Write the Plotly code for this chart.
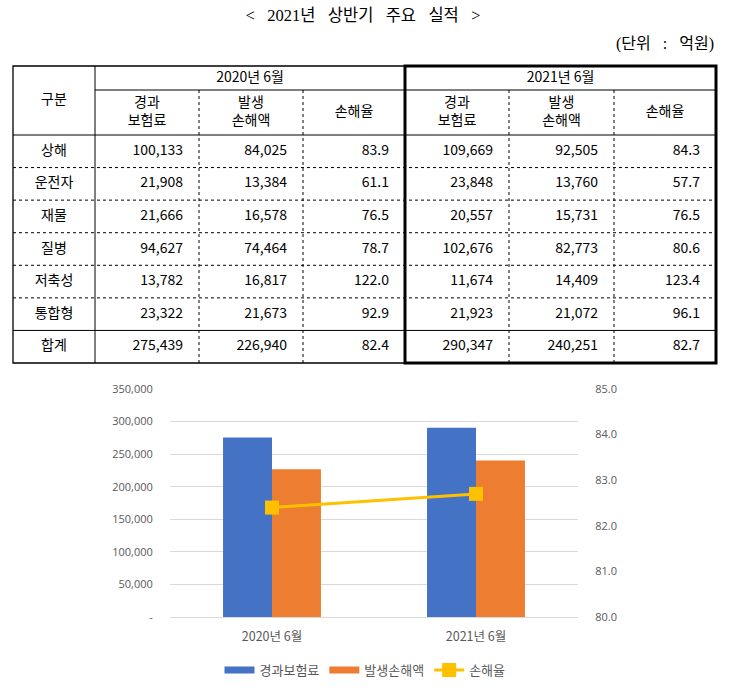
import plotly.graph_objects as go

# ---------------- data ----------------
categories = ["상해", "운전자", "재물", "질병", "저축성", "통합형", "합계"]
prem_2020 = [100133, 21908, 21666, 94627, 13782, 23322, 275439]
loss_2020 = [84025, 13384, 16578, 74464, 16817, 21673, 226940]
ratio_2020 = [83.9, 61.1, 76.5, 78.7, 122.0, 92.9, 82.4]
prem_2021 = [109669, 23848, 20557, 102676, 11674, 21923, 290347]
loss_2021 = [92505, 13760, 15731, 82773, 14409, 21072, 240251]
ratio_2021 = [84.3, 57.7, 76.5, 80.6, 123.4, 96.1, 82.7]

periods = ["2020년 6월", "2021년 6월"]
sub_headers = ["경과<br>보험료", "발생<br>손해액", "손해율"]
series_names = ["경과보험료", "발생손해액", "손해율"]
left_tickvals = [0, 50000, 100000, 150000, 200000, 250000, 300000, 350000]
left_ticktext = ["-", "50,000", "100,000", "150,000", "200,000", "250,000", "300,000", "350,000"]
right_tickvals = [80, 81, 82, 83, 84, 85]

SP3 = "\u00a0\u00a0\u00a0"
title_text = "<" + SP3 + "2021년" + SP3 + "상반기" + SP3 + "주요" + SP3 + "실적" + SP3 + ">"
unit_text = "(단위" + SP3 + ":" + SP3 + "억원)"
corner_text = "구분"

# ---------------- styles / geometry ----------------
W, H = 730, 691
KFONT = "Noto Sans CJK KR, Malgun Gothic, sans-serif"
GRAY = "#595959"
BLUE, ORANGE, GOLD = "#4472C4", "#ED7D31", "#FFC000"

col_edges = [13, 95, 199, 303, 405, 509, 614, 716]
table_top, head_mid, head_bot, table_bot = 66, 90, 135, 363
n = len(categories)
row_h = (table_bot - head_bot) / n
row_edges = [head_bot + i * row_h for i in range(n + 1)]
row_centers = [(row_edges[i] + row_edges[i + 1]) / 2 for i in range(n)]
pad_r = 16
tfont = dict(family=KFONT, size=14, color="black")

fig = go.Figure()

# ---------------- chart ----------------
totals_prem = [prem_2020[-1], prem_2021[-1]]
totals_loss = [loss_2020[-1], loss_2021[-1]]
totals_ratio = [ratio_2020[-1], ratio_2021[-1]]

fig.add_trace(go.Bar(x=periods, y=totals_prem, name=series_names[0], showlegend=False,
                     marker=dict(color=BLUE, line=dict(width=0)), xaxis="x", yaxis="y"))
fig.add_trace(go.Bar(x=periods, y=totals_loss, name=series_names[1], showlegend=False,
                     marker=dict(color=ORANGE, line=dict(width=0)), xaxis="x", yaxis="y"))
# legend keys for the bars (wide flat swatches like the original)
fig.add_trace(go.Scatter(x=[None], y=[None], name=series_names[0], mode="lines",
                         line=dict(color=BLUE, width=7), xaxis="x", yaxis="y", hoverinfo="skip"))
fig.add_trace(go.Scatter(x=[None], y=[None], name=series_names[1], mode="lines",
                         line=dict(color=ORANGE, width=7), xaxis="x", yaxis="y", hoverinfo="skip"))
fig.add_trace(go.Scatter(x=periods, y=totals_ratio, name=series_names[2], mode="lines+markers",
                         line=dict(color=GOLD, width=3),
                         marker=dict(symbol="square", size=14, color=GOLD),
                         xaxis="x", yaxis="y2"))

# ---------------- table (on a pixel-scaled helper axis) ----------------
def fmt_int(v):
    return f"{v:,}"

def fmt_f(v):
    return f"{v:.1f}"

table_cols = [(prem_2020, fmt_int), (loss_2020, fmt_int), (ratio_2020, fmt_f),
              (prem_2021, fmt_int), (loss_2021, fmt_int), (ratio_2021, fmt_f)]

fig.add_trace(go.Scatter(
    x=[(col_edges[0] + col_edges[1]) / 2] * n, y=row_centers, text=categories,
    mode="text", textposition="middle center", textfont=tfont,
    xaxis="x3", yaxis="y3", showlegend=False, hoverinfo="skip"))

for j, (vals, f) in enumerate(table_cols):
    fig.add_trace(go.Scatter(
        x=[col_edges[j + 2] - pad_r] * n, y=row_centers, text=[f(v) for v in vals],
        mode="text", textposition="middle left", textfont=tfont,
        xaxis="x3", yaxis="y3", showlegend=False, hoverinfo="skip"))

hx, hy, ht = [], [], []
hx.append((col_edges[0] + col_edges[1]) / 2); hy.append((table_top + head_bot) / 2); ht.append(corner_text)
hx.append((col_edges[1] + col_edges[4]) / 2); hy.append((table_top + head_mid) / 2); ht.append(periods[0])
hx.append((col_edges[4] + col_edges[7]) / 2); hy.append((table_top + head_mid) / 2); ht.append(periods[1])
for j in range(6):
    hx.append((col_edges[j + 1] + col_edges[j + 2]) / 2)
    hy.append((head_mid + head_bot) / 2)
    ht.append(sub_headers[j % 3])
fig.add_trace(go.Scatter(x=hx, y=hy, text=ht, mode="text", textposition="middle center",
                         textfont=tfont, xaxis="x3", yaxis="y3", showlegend=False,
                         hoverinfo="skip"))

fig.add_trace(go.Scatter(x=[363], y=[17], text=[title_text], mode="text",
                         textposition="middle center",
                         textfont=dict(family="Liberation Serif, " + KFONT, size=16.5, color="black"),
                         xaxis="x3", yaxis="y3", showlegend=False, hoverinfo="skip"))
fig.add_trace(go.Scatter(x=[714], y=[45], text=[unit_text], mode="text",
                         textposition="middle left",
                         textfont=dict(family="Liberation Serif, " + KFONT, size=16, color="black"),
                         xaxis="x3", yaxis="y3", showlegend=False, hoverinfo="skip"))

# table lines
shapes = []

def hline(y, x0, x1, dash="solid", w=1):
    shapes.append(dict(type="line", xref="x3", yref="y3", x0=x0, x1=x1, y0=y, y1=y,
                       line=dict(color="black", width=w, dash=dash)))

def vline(x, y0, y1, dash="solid", w=1):
    shapes.append(dict(type="line", xref="x3", yref="y3", x0=x, x1=x, y0=y0, y1=y1,
                       line=dict(color="black", width=w, dash=dash)))

L, R = col_edges[0], col_edges[-1]
for i in range(1, n):
    if i == n - 1:
        hline(row_edges[i], L, R)
    else:
        hline(row_edges[i], L, R, dash="dot")
for j in (2, 3, 5, 6):
    vline(col_edges[j], head_mid, table_bot, dash="dot")
hline(head_mid, col_edges[1], R)
hline(head_bot, L, R)
vline(col_edges[1], table_top, table_bot)
shapes.append(dict(type="rect", xref="x3", yref="y3", x0=L, x1=R, y0=table_top, y1=table_bot,
                   line=dict(color="black", width=1.3)))
shapes.append(dict(type="rect", xref="x3", yref="y3", x0=col_edges[4], x1=R,
                   y0=table_top, y1=table_bot, line=dict(color="black", width=3)))

# ---------------- layout ----------------
x0p, x1p, y0p, y1p = 170, 578, 389, 617
fig.update_layout(
    width=W, height=H, autosize=False,
    margin=dict(l=0, r=0, t=0, b=0, pad=0, autoexpand=False),
    paper_bgcolor="white", plot_bgcolor="rgba(0,0,0,0)",
    barmode="group", bargap=0.52, bargroupgap=0,
    shapes=shapes,
    showlegend=True,
    legend=dict(orientation="h", x=0.5, xanchor="center", y=1 - 670 / H, yanchor="middle",
                font=dict(family=KFONT, size=13, color=GRAY), traceorder="normal",
                itemwidth=30),
    xaxis=dict(domain=[x0p / W, x1p / W], anchor="y", showgrid=False, showline=False,
               zeroline=False, ticks="outside", ticklen=8, tickcolor="rgba(0,0,0,0)",
               automargin=False,
               tickfont=dict(family=KFONT, size=12.5, color=GRAY)),
    yaxis=dict(domain=[1 - y1p / H, 1 - y0p / H], anchor="x", range=[0, 350000],
               tickvals=left_tickvals, ticktext=left_ticktext, automargin=False,
               showgrid=True, gridcolor="#d9d9d9", gridwidth=1, zeroline=True,
               zerolinecolor="#d9d9d9", zerolinewidth=1, showline=False,
               ticks="outside", ticklen=14, tickcolor="rgba(0,0,0,0)",
               tickfont=dict(family="Open Sans, " + KFONT, size=11, color=GRAY)),
    yaxis2=dict(overlaying="y", side="right", anchor="x", range=[80, 85], automargin=False,
                tickvals=right_tickvals, tickformat=".1f", showgrid=False, zeroline=False,
                showline=False, ticks="outside", ticklen=14, tickcolor="rgba(0,0,0,0)",
                tickfont=dict(family="Open Sans, " + KFONT, size=11, color=GRAY)),
    xaxis3=dict(domain=[0, 1], anchor="y3", range=[0, W], visible=False, fixedrange=True,
                automargin=False),
    yaxis3=dict(domain=[0, 1], anchor="x3", range=[H, 0], visible=False, fixedrange=True,
                automargin=False),
)

fig.write_html("out.html", config={"displayModeBar": False},
               post_script="document.body.style.margin='0px';")
